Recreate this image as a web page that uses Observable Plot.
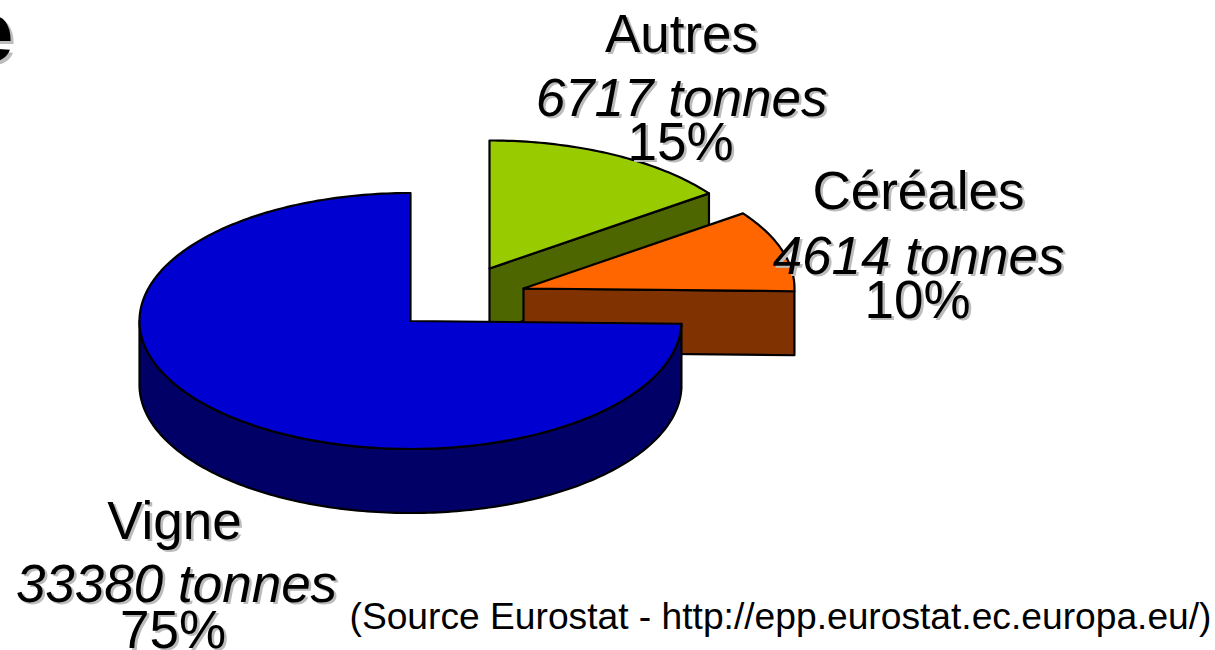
<!DOCTYPE html>
<html lang="fr">
<head>
<meta charset="utf-8">
<script src="https://cdn.jsdelivr.net/npm/d3@7"></script>
<script src="https://cdn.jsdelivr.net/npm/@observablehq/plot@0.6"></script>
<style>
html,body{margin:0;padding:0;background:#fff;overflow:hidden;width:1215px;height:650px}
svg{display:block;background:#fff}
</style>
</head>
<body>
<div id="chart"></div>
<script>
// Data, clockwise from 12 o'clock
const categories = ["Autres", "Céréales", "Vigne"];
const tonnes = [6717, 4614, 33380];
const percents = ["15%", "10%", "75%"];
const source = "(Source Eurostat - http://epp.eurostat.ec.europa.eu/)";
const titleFragment = "e";

// Style and layout
const topColors = ["#99cc00", "#ff6600", "#0000d0"];
const sideColors = ["#4d6600", "#803300", "#000066"];
const centreX = [489, 523, 410];
const centreY = [268, 288, 320.5];
const radiusX = 271, radiusY = 128, depth = 64;
const labelX = [[681, 681, 680], [918, 918, 917], [174, 176, 172.5]];
const labelBaselines = [[51, 115, 159], [208, 273, 317], [538, 601, 647]];
const font = "Liberation Sans";
const shadow = "#bcbcbc";

const arcs = d3.pie().sort(null).startAngle(0).endAngle(2 * Math.PI)(tonnes);
const rim = (i, a, drop = 0) => ({
  x: centreX[i] + radiusX * Math.sin(a),
  y: centreY[i] - radiusY * Math.cos(a) + drop
});
const arcPoints = (i, a0, a1, drop = 0) => {
  const n = Math.max(2, Math.ceil(Math.abs(a1 - a0) / (Math.PI / 180)));
  return d3.range(n + 1).map(k => rim(i, a0 + (a1 - a0) * k / n, drop));
};
const close = p => [...p, p[0]];
const apex = (i, drop = 0) => ({x: centreX[i], y: centreY[i] + drop});
const wedge = i => close([apex(i), ...arcPoints(i, arcs[i].startAngle, arcs[i].endAngle)]);
// Cut face along the clockwise end of the slice
const cutFace = i => {
  const e = arcs[i].endAngle;
  return close([apex(i), rim(i, e), rim(i, e, depth), apex(i, depth)]);
};
// Outer wall of the big slice: visible from its start round to the west
const outerWall = i => {
  const a0 = arcs[i].startAngle, a1 = 3 * Math.PI / 2;
  return close([...arcPoints(i, a0, a1), ...arcPoints(i, a1, a0, depth)]);
};
const poly = (points, fill) => Plot.line(points, {
  x: "x", y: "y", fill, stroke: "#000", strokeWidth: 2.2, strokeLinejoin: "round", curve: "linear"
});

const textRows = [];
categories.forEach((c, i) => {
  textRows.push({t: c, x: labelX[i][0], y: labelBaselines[i][0], style: "normal"});
  textRows.push({t: `${tonnes[i]} tonnes`, x: labelX[i][1], y: labelBaselines[i][1], style: "italic"});
  textRows.push({t: percents[i], x: labelX[i][2], y: labelBaselines[i][2], style: "normal"});
});
const textMark = (rows, dx, dy, fill, fontStyle) => Plot.text(rows, {
  x: "x", y: "y", text: "t", dx, dy, fill, fontSize: 53, fontStyle, fontFamily: font,
  textAnchor: "middle", lineAnchor: "bottom"
});
const regular = textRows.filter(d => d.style === "normal");
const italic = textRows.filter(d => d.style === "italic");

const chart = Plot.plot({
  width: 1215, height: 650,
  marginTop: 0, marginRight: 0, marginBottom: 0, marginLeft: 0,
  x: {domain: [0, 1215], range: [0, 1215], axis: null},
  y: {domain: [0, 650], range: [0, 650], axis: null},
  style: {background: "#fff", overflow: "hidden"},
  marks: [
    poly(cutFace(0), sideColors[0]),
    poly(wedge(0), topColors[0]),
    poly(cutFace(1), sideColors[1]),
    poly(wedge(1), topColors[1]),
    poly(outerWall(2), sideColors[2]),
    poly(wedge(2), topColors[2]),
    textMark(regular, 2.5, 2.5, shadow, "normal"),
    textMark(italic, 2.5, 2.5, shadow, "italic"),
    textMark(regular, 0, 0, "#000", "normal"),
    textMark(italic, 0, 0, "#000", "italic"),
    Plot.text([titleFragment], {
      x: [13], y: [60], dx: 3, dy: 3, text: d => d, fill: shadow, fontSize: 86, fontWeight: "bold",
      fontFamily: font, textAnchor: "end", lineAnchor: "bottom"
    }),
    Plot.text([titleFragment], {
      x: [13], y: [60], text: d => d, fill: "#000", fontSize: 86, fontWeight: "bold",
      fontFamily: font, textAnchor: "end", lineAnchor: "bottom"
    }),
    Plot.text([source], {
      x: [349], y: [628], text: d => d, fill: "#000", fontSize: 37.2, fontFamily: font,
      textAnchor: "start", lineAnchor: "bottom"
    })
  ]
});
document.getElementById("chart").append(chart);
</script>
</body>
</html>
